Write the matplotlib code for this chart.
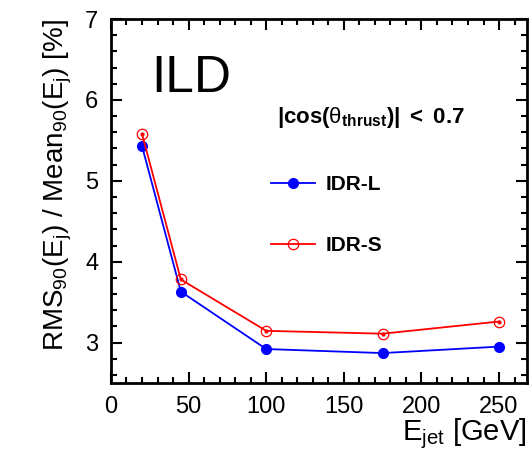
import matplotlib
matplotlib.use("Agg")
import matplotlib.pyplot as plt
from matplotlib.ticker import MultipleLocator

plt.rcParams["font.family"] = ["Liberation Sans", "DejaVu Sans"]
plt.rcParams["mathtext.fontset"] = "custom"
plt.rcParams["mathtext.rm"] = "Liberation Sans"
plt.rcParams["mathtext.it"] = "Liberation Sans:italic"
plt.rcParams["mathtext.bf"] = "Liberation Sans:bold"

# jet energies and resolutions
e_jet = [20, 45, 100, 175, 250]
idr_l = [5.43, 3.63, 2.92, 2.87, 2.95]
idr_s = [5.58, 3.78, 3.145, 3.11, 3.26]

fig = plt.figure(figsize=(5.32, 4.53), dpi=100)
ax = fig.add_axes([0.2086, 0.1545, 0.782, 0.8035])

ax.plot(e_jet, idr_l, color="#0000ff", lw=1.3, marker="o", ms=7, label="IDR-L")
ax.plot(e_jet, idr_s, color="#ff0000", lw=1.3, marker="o", ms=7.5,
        mfc="none", mew=0.9, label="IDR-S")
ax.plot(e_jet, idr_s, ls="none", color="#ff0000", marker="o", ms=2)

ax.set_xlim(0, 268)
ax.set_ylim(2.5, 7)
ax.xaxis.set_major_locator(MultipleLocator(50))
ax.xaxis.set_minor_locator(MultipleLocator(10))
ax.yaxis.set_major_locator(MultipleLocator(1))
ax.yaxis.set_minor_locator(MultipleLocator(0.2))
ax.tick_params(which="both", direction="in", top=True, right=True, width=1.5,
               labelsize=17)
ax.tick_params(which="major", length=8, pad=9)
ax.tick_params(which="minor", length=4.5)
for s in ax.spines.values():
    s.set_linewidth(2)

ax.set_xlabel(r"E$_{\rm jet}$ [GeV]", fontsize=21, loc="right")
ax.xaxis.set_label_coords(1.0, -0.092)
ax.set_ylabel(r"RMS$_{90}$(E$_{\rm j}$) / Mean$_{90}$(E$_{\rm j}$) [%]",
              fontsize=20, loc="top", labelpad=8)

ax.text(0.098, 0.80, "ILD", transform=ax.transAxes, fontsize=37, va="baseline")
ax.text(0.398, 0.73,
        r"$\mathbf{|cos(}\mathrm{θ}_{\mathbf{thrust}}\mathbf{)|\ <\ 0.7}$",
        transform=ax.transAxes, fontsize=16, va="center")

ax.legend(loc="upper left", bbox_to_anchor=(0.385, 0.571), frameon=False,
          borderaxespad=0, borderpad=0, handlelength=2.1, handletextpad=0.5,
          labelspacing=2.0, prop={"weight": "bold", "size": 15})

fig.savefig("out.png", dpi=100)
